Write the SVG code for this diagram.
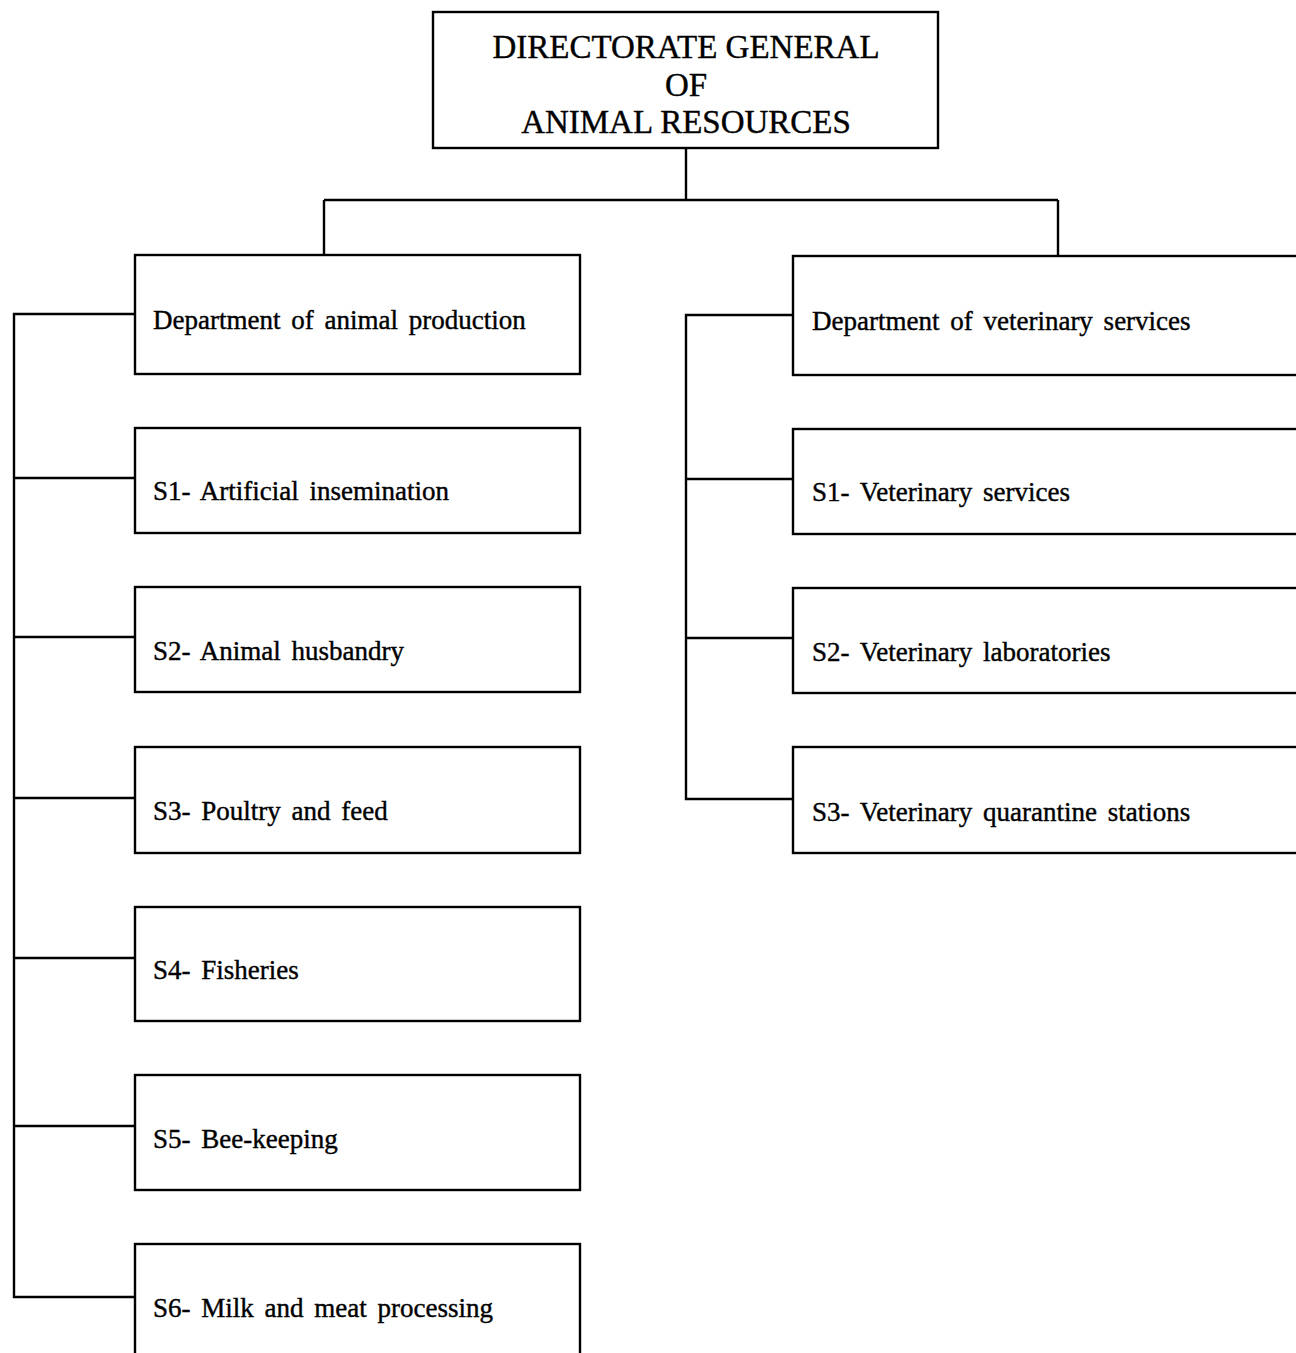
<svg xmlns="http://www.w3.org/2000/svg" width="1296" height="1353" viewBox="0 0 1296 1353">
<style>
.box{fill:#fff;stroke:#000;stroke-width:2.4}
.ln{fill:none;stroke:#000;stroke-width:2.4}
.t{font-family:"Liberation Serif","Times New Roman",serif;font-size:27px;fill:#000;stroke:#000;stroke-width:0.4;word-spacing:4px}
.h{font-family:"Liberation Serif","Times New Roman",serif;font-size:33px;fill:#000;stroke:#000;stroke-width:0.4;text-anchor:middle}
</style>
<rect width="1296" height="1353" fill="#fff"/>
<g id="connectors">
<path class="ln" d="M686,148 V200 M324,200 H1058 M324,200 V255 M1058,200 V256"/>
<path class="ln" d="M135,314 H14 V1297 H135 M14,478 H135 M14,637 H135 M14,798 H135 M14,958 H135 M14,1126 H135"/>
<path class="ln" d="M793,315 H686 V799 H793 M686,479 H793 M686,638 H793"/>
</g>
<g id="top">
<rect class="box" x="433" y="12" width="505" height="136"/>
<text class="h" x="686" y="58">DIRECTORATE GENERAL</text>
<text class="h" x="686" y="96">OF</text>
<text class="h" x="686" y="133">ANIMAL RESOURCES</text>
</g>
<g id="dept-animal">
<rect class="box" x="135" y="255" width="445" height="119"/>
<text class="t" x="153" y="329">Department of animal production</text>
</g>
<g id="s1-ai">
<rect class="box" x="135" y="428" width="445" height="105"/>
<text class="t" x="153" y="500">S1- Artificial insemination</text>
</g>
<g id="s2-ah">
<rect class="box" x="135" y="587" width="445" height="105"/>
<text class="t" x="153" y="660">S2- Animal husbandry</text>
</g>
<g id="s3-pf">
<rect class="box" x="135" y="747" width="445" height="106"/>
<text class="t" x="153" y="820">S3- Poultry and feed</text>
</g>
<g id="s4-fi">
<rect class="box" x="135" y="907" width="445" height="114"/>
<text class="t" x="153" y="979">S4- Fisheries</text>
</g>
<g id="s5-bk">
<rect class="box" x="135" y="1075" width="445" height="115"/>
<text class="t" x="153" y="1148">S5- Bee-keeping</text>
</g>
<g id="s6-mm">
<rect class="box" x="135" y="1244" width="445" height="130"/>
<text class="t" x="153" y="1317">S6- Milk and meat processing</text>
</g>
<g id="dept-vet">
<rect class="box" x="793" y="256" width="530" height="119"/>
<text class="t" x="812" y="330">Department of veterinary services</text>
</g>
<g id="v1-vs">
<rect class="box" x="793" y="429" width="530" height="105"/>
<text class="t" x="812" y="501">S1- Veterinary services</text>
</g>
<g id="v2-vl">
<rect class="box" x="793" y="588" width="530" height="105"/>
<text class="t" x="812" y="661">S2- Veterinary laboratories</text>
</g>
<g id="v3-vq">
<rect class="box" x="793" y="747" width="530" height="106"/>
<text class="t" x="812" y="821">S3- Veterinary quarantine stations</text>
</g>
</svg>
